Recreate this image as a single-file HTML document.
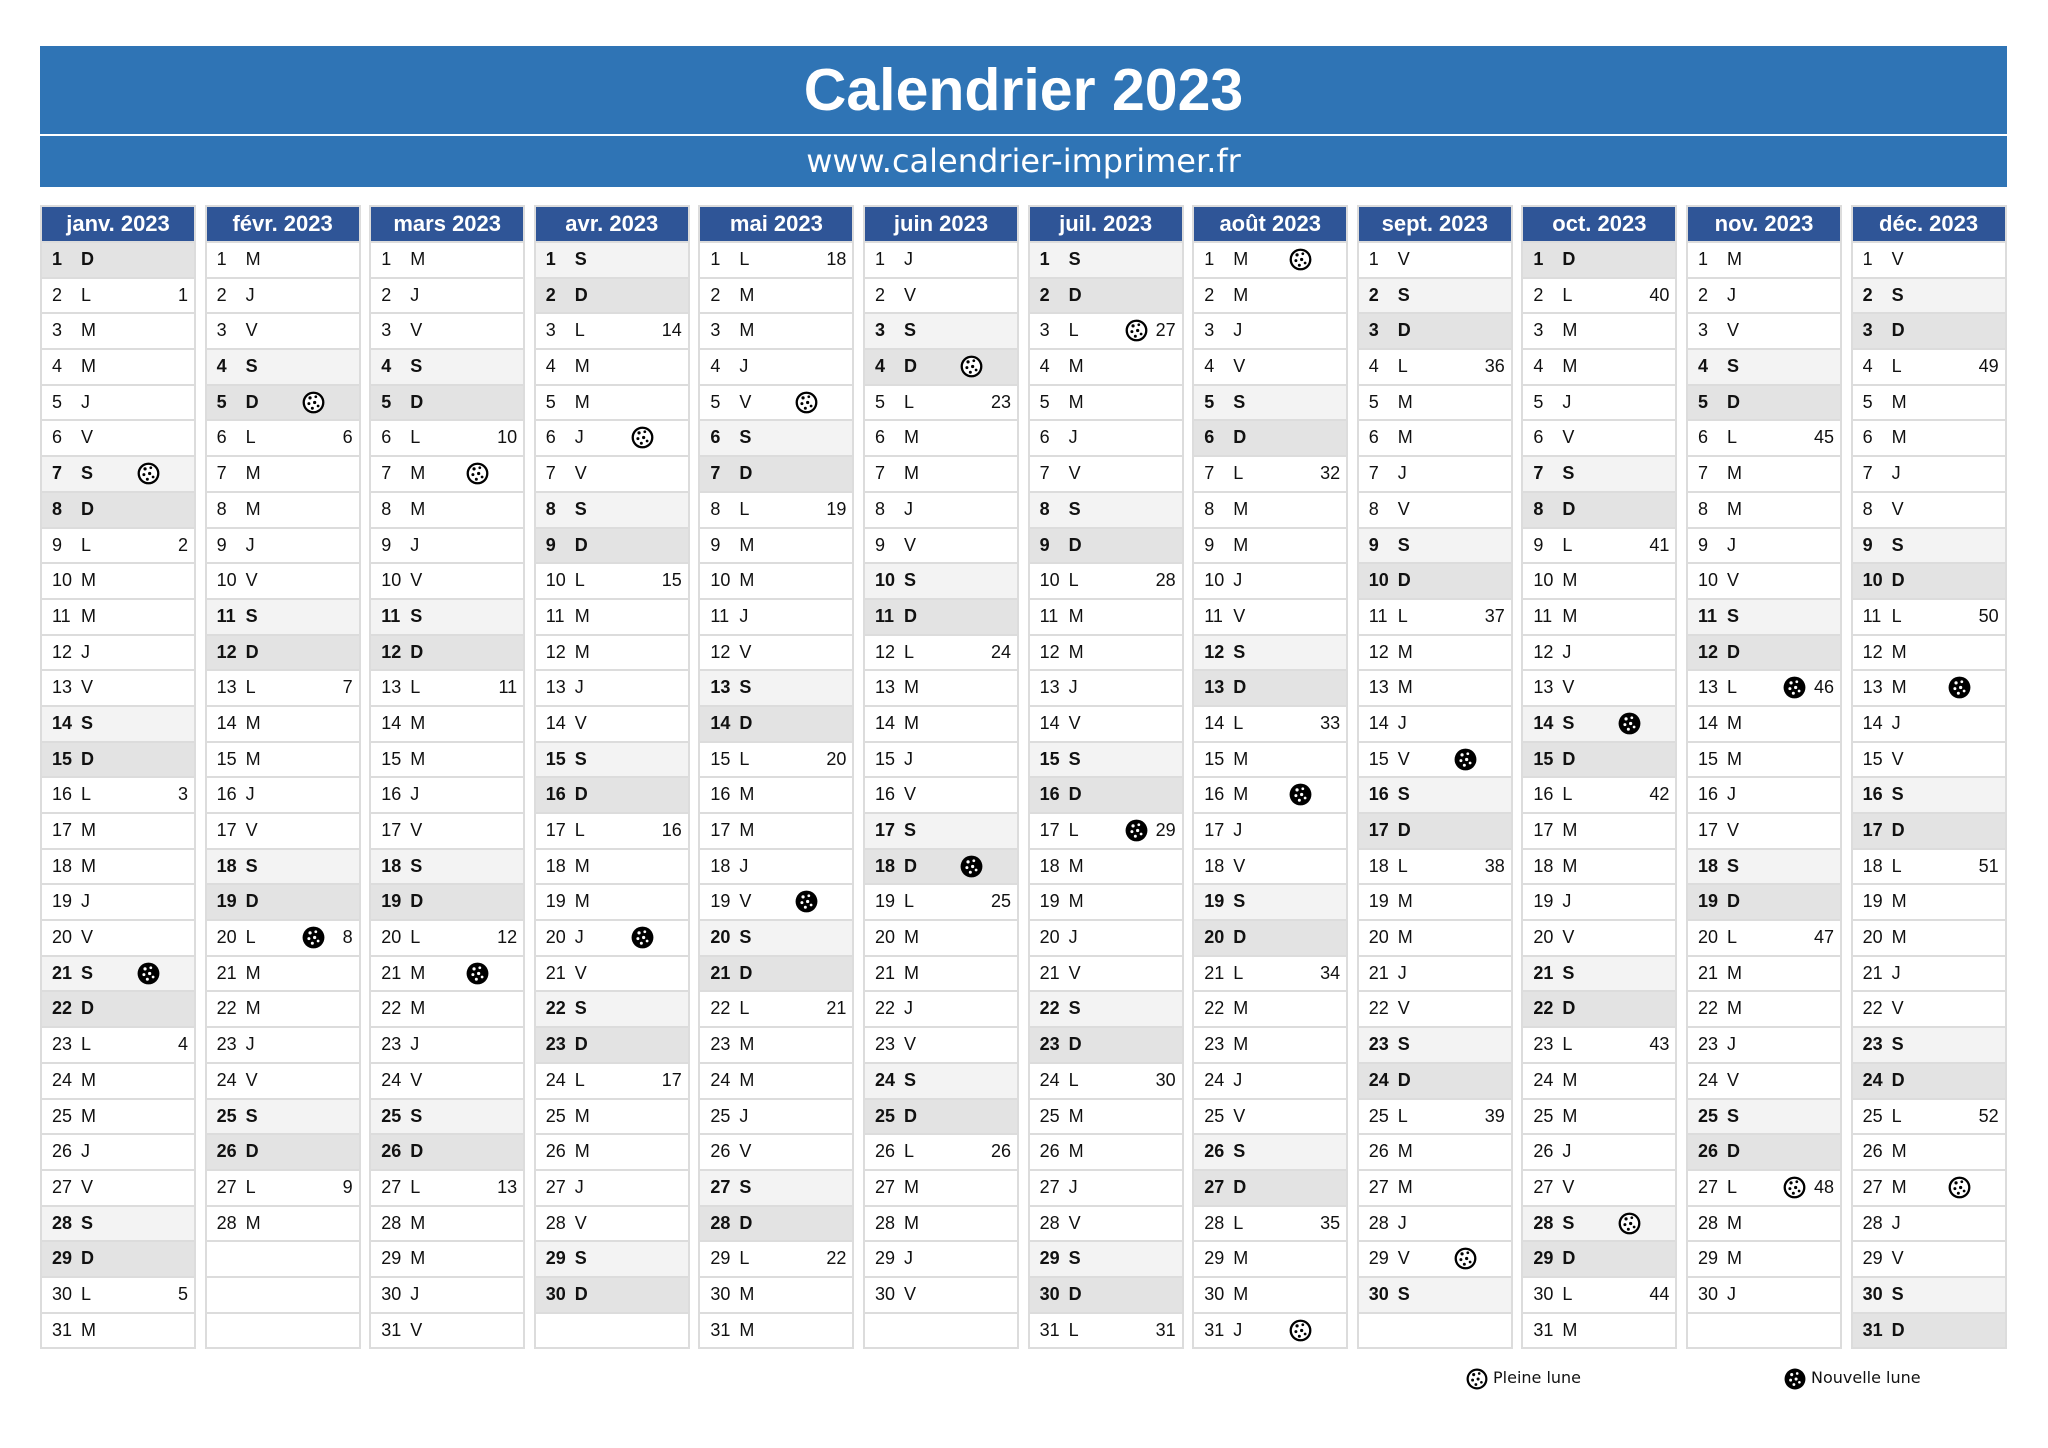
<!DOCTYPE html>
<html><head><meta charset="utf-8">
<style>
html,body{margin:0;padding:0;background:#fff;width:2048px;height:1448px;overflow:hidden;font-family:"Liberation Sans",sans-serif;}
.t1{position:absolute;left:40px;top:46px;width:1967px;height:88px;background:#2f74b5;color:#fff;font-weight:bold;font-size:59px;text-align:center;line-height:88px;}
.t2{position:absolute;left:40px;top:136px;width:1967px;height:51px;background:#2f74b5;color:#fff;font-size:32px;text-align:center;line-height:50px;font-family:"DejaVu Sans","Liberation Sans",sans-serif;}
.col{position:absolute;top:205px;width:156px;border:2px solid #dcdcdc;box-sizing:border-box;}
.hd{height:34px;background:#2f5597;color:#fff;font-weight:bold;font-size:22px;text-align:center;line-height:34px;}
.r{position:relative;height:35.7px;box-sizing:border-box;border-top:2px solid #dcdcdc;font-size:18px;line-height:33px;color:#111;background:#fff;}
.r.s{background:#f3f3f3;font-weight:bold;}
.r.d{background:#e3e3e3;font-weight:bold;}
.n{position:absolute;left:10px;}
.l{position:absolute;left:39px;}
.w{position:absolute;right:6px;}
.m{position:absolute;left:95px;top:5px;width:23px;height:23px;}
.leg{position:absolute;top:1366px;font-size:16px;line-height:24px;color:#111;font-family:"DejaVu Sans",sans-serif;}
.leg svg{vertical-align:middle;margin-right:5px;}
</style></head><body>
<div class="t1">Calendrier 2023</div>
<div class="t2">www.calendrier-imprimer.fr</div>
<div id="cal"></div>
<div class="leg" style="left:1466px"><svg width="22" height="22" viewBox="0 0 20 20"><circle cx="10" cy="10" r="8.5" fill="#fff" stroke="#000" stroke-width="2"/><circle cx="7" cy="6" r="1.4"/><circle cx="12" cy="5" r="1.2"/><circle cx="6" cy="11" r="1.3"/><circle cx="11" cy="10" r="1.4"/><circle cx="14" cy="13" r="1.2"/><circle cx="9" cy="15" r="1.3"/></svg>Pleine lune</div>
<div class="leg" style="left:1784px"><svg width="22" height="22" viewBox="0 0 20 20"><circle cx="10" cy="10" r="9.5" fill="#000"/><circle cx="7" cy="6" r="1.4" fill="#fff"/><circle cx="12" cy="5" r="1.2" fill="#fff"/><circle cx="6" cy="11" r="1.3" fill="#fff"/><circle cx="11" cy="10" r="1.4" fill="#fff"/><circle cx="14" cy="13" r="1.2" fill="#fff"/><circle cx="9" cy="15" r="1.3" fill="#fff"/></svg>Nouvelle lune</div>
<script>
var names=["janv. 2023","févr. 2023","mars 2023","avr. 2023","mai 2023","juin 2023","juil. 2023","août 2023","sept. 2023","oct. 2023","nov. 2023","déc. 2023"];
var len=[31,28,31,30,31,30,31,31,30,31,30,31];
var L=["D","L","M","M","J","V","S"];
var full={"0-7":1,"1-5":1,"2-7":1,"3-6":1,"4-5":1,"5-4":1,"6-3":1,"7-1":1,"7-31":1,"8-29":1,"9-28":1,"10-27":1,"11-27":1};
var nw={"0-21":1,"1-20":1,"2-21":1,"3-20":1,"4-19":1,"5-18":1,"6-17":1,"7-16":1,"8-15":1,"9-14":1,"10-13":1,"11-13":1};
var dots='<circle cx="7" cy="6" r="1.4" F/><circle cx="12" cy="5" r="1.2" F/><circle cx="6" cy="11" r="1.3" F/><circle cx="11" cy="10" r="1.4" F/><circle cx="14" cy="13" r="1.2" F/><circle cx="9" cy="15" r="1.3" F/>';
var fullS='<svg class="m" viewBox="0 0 20 20"><circle cx="10" cy="10" r="8.5" fill="#fff" stroke="#000" stroke-width="2"/>'+dots.replace(/F/g,'fill="#000"')+'</svg>';
var newS='<svg class="m" viewBox="0 0 20 20"><circle cx="10" cy="10" r="9.5" fill="#000"/>'+dots.replace(/F/g,'fill="#fff"')+'</svg>';
var h="",doy=0;
for(var m=0;m<12;m++){
 var x=40+m*164.6;
 h+='<div class="col" style="left:'+x.toFixed(1)+'px"><div class="hd">'+names[m]+'</div>';
 for(var d=1;d<=31;d++){
  if(d>len[m]){h+='<div class="r"></div>';continue;}
  var dy=doy+d; var wd=(dy-1)%7;
  var cls=wd==6?" s":wd==0?" d":"";
  var c='<span class="n">'+d+'</span><span class="l">'+L[wd]+'</span>';
  var k=m+"-"+d;
  if(full[k])c+=fullS; if(nw[k])c+=newS;
  if(wd==1)c+='<span class="w">'+(Math.floor((dy-2)/7)+1)+'</span>';
  h+='<div class="r'+cls+'">'+c+'</div>';
 }
 h+='</div>';doy+=len[m];
}
document.getElementById("cal").innerHTML=h;
</script>
</body></html>
